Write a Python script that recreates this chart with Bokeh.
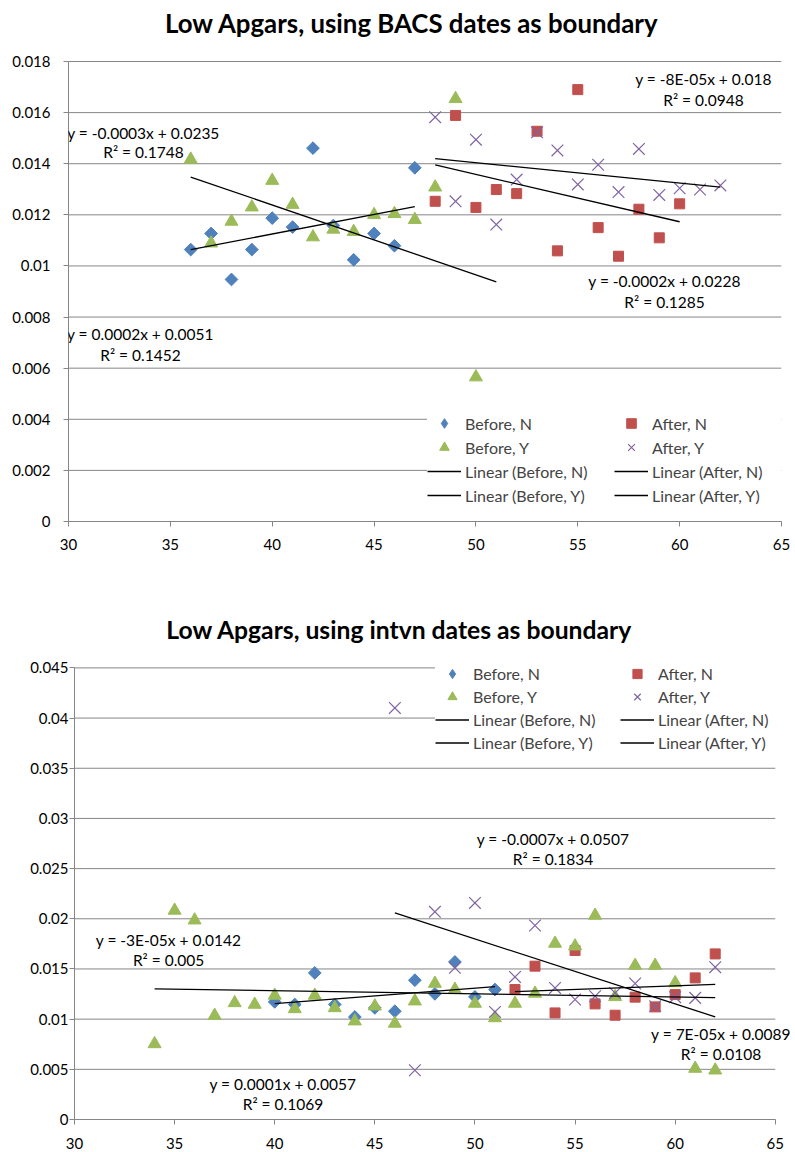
import numpy as np
from bokeh.plotting import figure
from bokeh.models import (Range1d, FixedTicker, CustomJSTickFormatter,
                          Label, Legend, LegendItem)
from bokeh.embed import file_html
from bokeh.resources import INLINE

FONT = "Lato"
SERIES = ["Before, N", "After, N", "Before, Y", "After, Y"]
COLORS = {"Before, N": "#4F81BD", "After, N": "#C0504D",
          "Before, Y": "#9BBB59", "After, Y": "#8064A2"}

# ---------------- Chart 1: BACS dates as boundary ----------------
c1_title = "Low Apgars, using BACS dates as boundary"
c1_bn_x = [36, 37, 38, 39, 40, 41, 42, 43, 44, 45, 46, 47]
c1_bn_y = [0.01064, 0.01127, 0.00947, 0.01064, 0.01187, 0.01152, 0.01461,
           0.01158, 0.01024, 0.01127, 0.01079, 0.01384]
c1_an_x = [48, 49, 50, 51, 52, 53, 54, 55, 56, 57, 58, 59, 60]
c1_an_y = [0.01253, 0.01589, 0.01229, 0.01299, 0.01283, 0.01527, 0.01059,
           0.01690, 0.01150, 0.01038, 0.01222, 0.01110, 0.01243]
c1_by_x = [36, 37, 38, 39, 40, 41, 42, 43, 44, 45, 46, 47, 48, 49, 50, 51]
c1_by_y = [0.01417, 0.01089, 0.01174, 0.01230, 0.01334, 0.01240, 0.01113,
           0.01143, 0.01134, 0.01200, 0.01204, 0.01181, 0.01308, 0.01654,
           0.00565, 0.00300]
c1_ay_x = [48, 49, 50, 51, 52, 53, 54, 55, 56, 57, 58, 59, 60, 61, 62]
c1_ay_y = [0.01582, 0.01253, 0.01494, 0.01162, 0.01338, 0.01523, 0.01452,
           0.01319, 0.01396, 0.01289, 0.01458, 0.01278, 0.01304, 0.01299,
           0.01315]
c1_eq = {"Before, N": ("y = 0.0002x + 0.0051", "R² = 0.1452"),
         "After, N": ("y = -0.0002x + 0.0228", "R² = 0.1285"),
         "Before, Y": ("y = -0.0003x + 0.0235", "R² = 0.1748"),
         "After, Y": ("y = -8E-05x + 0.018", "R² = 0.0948")}
c1_xticks = [30, 35, 40, 45, 50, 55, 60, 65]
c1_yticks = [0, 0.002, 0.004, 0.006, 0.008, 0.01, 0.012, 0.014, 0.016, 0.018]

# ---------------- Chart 2: intvn dates as boundary ----------------
c2_title = "Low Apgars, using intvn dates as boundary"
c2_bn_x = [40, 41, 42, 43, 44, 45, 46, 47, 48, 49, 50, 51]
c2_bn_y = [0.01172, 0.01146, 0.01461, 0.01146, 0.01022, 0.01112, 0.01079,
           0.01388, 0.01252, 0.01570, 0.01222, 0.01295]
c2_an_x = [52, 53, 54, 55, 56, 57, 58, 59, 60, 61, 62]
c2_an_y = [0.01295, 0.01528, 0.01062, 0.01684, 0.01152, 0.01039, 0.01219,
           0.01122, 0.01245, 0.01411, 0.01650]
c2_by_x = [34, 35, 36, 37, 38, 39, 40, 41, 42, 43, 44, 45, 46, 47, 48, 49,
           50, 51, 52, 53, 54, 55, 56, 57, 58, 59, 60, 61, 62]
c2_by_y = [0.00753, 0.02083, 0.01986, 0.01036, 0.01162, 0.01146, 0.01236,
           0.01102, 0.01236, 0.01112, 0.00980, 0.01129, 0.00957, 0.01179,
           0.01355, 0.01295, 0.01156, 0.01012, 0.01156, 0.01256, 0.01754,
           0.01727, 0.02033, 0.01222, 0.01534, 0.01534, 0.01361, 0.00508,
           0.00491]
c2_ay_x = [46, 47, 48, 49, 50, 51, 52, 53, 54, 55, 56, 57, 58, 59, 60, 61, 62]
c2_ay_y = [0.04101, 0.00491, 0.02069, 0.01511, 0.02158, 0.01072, 0.01421,
           0.01933, 0.01311, 0.01196, 0.01229, 0.01261, 0.01355, 0.01129,
           0.01219, 0.01212, 0.01518]
c2_eq = {"Before, N": ("y = 0.0001x + 0.0057", "R² = 0.1069"),
         "After, N": ("y = 7E-05x + 0.0089", "R² = 0.0108"),
         "Before, Y": ("y = -3E-05x + 0.0142", "R² = 0.005"),
         "After, Y": ("y = -0.0007x + 0.0507", "R² = 0.1834")}
c2_xticks = [30, 35, 40, 45, 50, 55, 60, 65]
c2_yticks = [0, 0.005, 0.01, 0.015, 0.02, 0.025, 0.03, 0.035, 0.04, 0.045]

GRID = "#868686"


def make_chart(title, data, eq, xticks, yticks, cfg):
    frame_h = cfg["height"] - cfg["mb"]
    # the frame reaches the top of the figure; the axis area ends at the top tick
    y_end = yticks[-1] * frame_h / cfg["plot_h"]
    p = figure(width=795, height=cfg["height"], output_backend="svg",
               toolbar_location=None, title_location=None,
               x_range=Range1d(xticks[0], cfg["xend"]),
               y_range=Range1d(yticks[0], y_end),
               min_border_left=cfg["ml"], min_border_right=cfg["mr"],
               min_border_top=0, min_border_bottom=cfg["mb"])
    p.outline_line_color = None
    p.background_fill_color = "white"
    p.xgrid.grid_line_color = None
    p.ygrid.grid_line_color = None
    # horizontal gridlines spanning the axis extent
    p.segment(x0=[xticks[0]] * len(yticks), x1=[xticks[-1]] * len(yticks),
              y0=yticks, y1=yticks, line_color=GRID, line_width=1)
    p.xaxis.ticker = FixedTicker(ticks=xticks)
    p.yaxis.ticker = FixedTicker(ticks=yticks)
    p.yaxis.formatter = CustomJSTickFormatter(
        code="return String(parseFloat(tick.toFixed(4)));")
    p.xaxis.bounds = (xticks[0], xticks[-1])
    p.yaxis.bounds = (yticks[0], yticks[-1])
    for ax in (p.xaxis, p.yaxis):
        ax.axis_line_color = GRID
        ax.major_tick_line_color = GRID
        ax.major_tick_out = 5
        ax.major_tick_in = 0
        ax.minor_tick_line_color = None
        ax.major_label_text_font = FONT
        ax.major_label_text_font_size = "15px"
        ax.major_label_text_color = "black"
    p.xaxis.major_label_standoff = cfg["xstand"]
    p.yaxis.major_label_standoff = cfg["ystand"]

    marks = {}
    # legend key glyph for the diamond symbol (hidden under the rotated squares)
    bn_x, bn_y = data["Before, N"]
    diamond_key = p.scatter(bn_x, bn_y, marker="diamond", size=11,
                            fill_color=COLORS["Before, N"],
                            line_color=COLORS["Before, N"])
    for name in SERIES:
        xs, ys = data[name]
        c = COLORS[name]
        if name == "Before, N":
            r = p.scatter(xs, ys, marker="square", angle=np.pi / 4, size=9,
                          fill_color=c, line_color=c)
        elif name == "After, N":
            r = p.scatter(xs, ys, marker="square", size=10, fill_color=c, line_color=c)
        elif name == "Before, Y":
            r = p.scatter(xs, ys, marker="triangle", size=13, fill_color=c, line_color=c)
        else:
            r = p.scatter(xs, ys, marker="x", size=16.5, line_color=c, line_width=1.2)
        marks[name] = r

    trends = {}
    for name in SERIES:
        xs, ys = data[name]
        k, b = np.polyfit(np.array(xs, float), np.array(ys, float), 1)
        x0, x1 = min(xs), max(xs)
        trends[name] = p.line([x0, x1], [k * x0 + b, k * x1 + b],
                              line_color="black", line_width=1.3)

    for name in SERIES:
        lx, ly1, ly2 = cfg["eqpos"][name]
        for txt, yy in zip(eq[name], (ly1, ly2)):
            p.add_layout(Label(x=lx, y=yy, text=txt, text_align="center",
                               text_baseline="middle", text_font=FONT,
                               text_font_size="15.5px", text_color="black"))

    tx, ty = cfg["titlepos"]
    p.add_layout(Label(x=tx, y=ty, text=title, text_align="center",
                       text_baseline="alphabetic", text_font=FONT,
                       text_font_style="bold", text_font_size=cfg["tsize"],
                       text_color="black"))

    items = [
        LegendItem(label="Before, N", renderers=[diamond_key]),
        LegendItem(label="Before, Y", renderers=[marks["Before, Y"]]),
        LegendItem(label="Linear (Before, N)", renderers=[trends["Before, N"]]),
        LegendItem(label="Linear (Before, Y)", renderers=[trends["Before, Y"]]),
        LegendItem(label="After, N", renderers=[marks["After, N"]]),
        LegendItem(label="After, Y", renderers=[marks["After, Y"]]),
        LegendItem(label="Linear (After, N)", renderers=[trends["After, N"]]),
        LegendItem(label="Linear (After, Y)", renderers=[trends["After, Y"]]),
    ]
    gh = cfg["legh"]
    leg = Legend(items=items, location=cfg["legloc"], ncols=2, orientation="vertical",
                 glyph_width=34, glyph_height=gh, label_height=gh,
                 label_width=cfg["labw"], spacing=0, label_standoff=4,
                 padding=8, margin=0,
                 label_text_font=FONT, label_text_font_size="16px",
                 background_fill_color="white", background_fill_alpha=1.0,
                 border_line_color=None)
    p.add_layout(leg)
    return p


data1 = {"Before, N": (c1_bn_x, c1_bn_y), "After, N": (c1_an_x, c1_an_y),
         "Before, Y": (c1_by_x, c1_by_y), "After, Y": (c1_ay_x, c1_ay_y)}
data2 = {"Before, N": (c2_bn_x, c2_bn_y), "After, N": (c2_an_x, c2_an_y),
         "Before, Y": (c2_by_x, c2_by_y), "After, Y": (c2_ay_x, c2_ay_y)}

cfg1 = dict(height=580, ml=68, mr=14, mb=59, plot_h=460, xstand=12, ystand=13,
            xend=65,
            eqpos={"Before, N": (33.53, 0.00732, 0.00650),
                   "After, N": (59.26, 0.00943, 0.00858),
                   "Before, Y": (33.68, 0.01522, 0.01444),
                   "After, Y": (61.17, 0.01732, 0.01651)},
            titlepos=(46.86, 0.019514), tsize="25.8px",
            legloc=(359, 14), labw=149, legh=24)
cfg2 = dict(height=572, ml=74, mr=5, mb=33, plot_h=451.6, xstand=13, ystand=1,
            xend=65.76,
            eqpos={"Before, N": (40.41, 0.00355, 0.00155),
                   "After, N": (62.29, 0.00850, 0.00651),
                   "Before, Y": (34.70, 0.01787, 0.01587),
                   "After, Y": (53.90, 0.02796, 0.02594)},
            titlepos=(46.23, 0.0488), tsize="24.7px",
            legloc=(361, 365), labw=147, legh=23)

p1 = make_chart(c1_title, data1, c1_eq, c1_xticks, c1_yticks, cfg1)
p2 = make_chart(c2_title, data2, c2_eq, c2_xticks, c2_yticks, cfg2)

open("out.html", "w").write(file_html([p1, p2], INLINE))
